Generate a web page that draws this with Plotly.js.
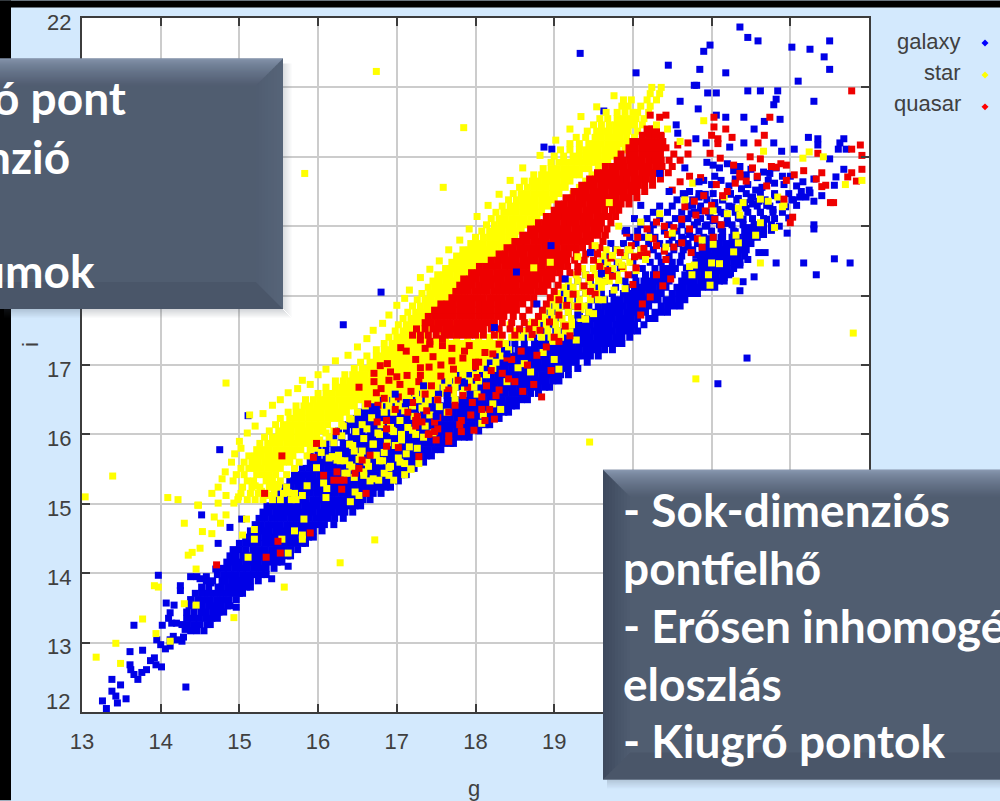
<!DOCTYPE html>
<html><head><meta charset="utf-8">
<script src="https://cdn.plot.ly/plotly-3.0.1.min.js"></script>
<style>html,body{margin:0;padding:0;background:#000;overflow:hidden}#c{width:1000px;height:801px}</style>
</head><body><div id="c"></div>
<script>
const xTicks=[13,14,15,16,17,18,19,20,21,22,23];
const xTickText=['13','14','15','16','17','18','19','','','',''];
const yTicks=[12,13,14,15,16,17,18,19,20,21,22];
const yTickText=['','13','14','15','16','17','','','','','22'];
const legendNames=['galaxy','star','quasar'];
const rightLines=['- Sok-dimenziós','pontfelhő','- Erősen inhomogén','eloszlás','- Kiugró pontok'];
const leftLines=['ó pont','nzió','umok'];

const galaxyRowY=[13.17,13.26,13.35,13.44,13.53,13.62,13.71,13.80,13.89,13.98,14.07,14.16,14.25,14.34,14.43,14.52,14.61,14.70,14.79,14.88,14.97,15.06,15.15,15.24,15.33,15.42,15.51,15.60,15.69,15.78,15.87,15.96,16.05,16.14,16.23,16.32,16.41,16.50,16.59,16.68,16.77,16.86,16.95,17.04,17.13,17.22,17.31,17.40,17.49,17.58,17.67,17.76,17.85,17.94,18.03,18.12,18.21,18.30,18.39,18.48,18.57];
const galaxyRowX=[
[14.38,14.46,14.55],
[14.34,14.42,14.50,14.59,14.63],
[14.33,14.41,14.49,14.57,14.65,14.72],
[14.33,14.42,14.51,14.58,14.66,14.74,14.80],
[14.36,14.45,14.53,14.61,14.69,14.77,14.85,14.88],
[14.38,14.47,14.55,14.63,14.71,14.79,14.87,14.96],
[14.44,14.52,14.60,14.68,14.76,14.84,14.92,15.00,15.04],
[14.52,14.61,14.73,14.77,14.85,14.93,15.01,15.09,15.14],
[14.58,14.66,14.78,14.82,14.90,14.98,15.06,15.14,15.24],
[14.72,14.80,14.88,14.96,15.04,15.12,15.20,15.28,15.34],
[14.78,14.86,14.94,15.02,15.10,15.18,15.26,15.34,15.44],
[14.84,14.92,15.00,15.08,15.16,15.24,15.32,15.40,15.48,15.54],
[14.88,14.96,15.05,15.13,15.21,15.29,15.37,15.45,15.53,15.61,15.65],
[14.92,15.00,15.08,15.17,15.25,15.33,15.41,15.49,15.57,15.65,15.74],
[15.00,15.08,15.16,15.24,15.32,15.40,15.48,15.56,15.64,15.72,15.80,15.84],
[15.08,15.16,15.24,15.32,15.40,15.48,15.56,15.64,15.72,15.80,15.88,15.94],
[15.14,15.22,15.30,15.38,15.46,15.54,15.62,15.70,15.78,15.86,15.94,16.05],
[15.20,15.28,15.36,15.44,15.52,15.60,15.68,15.76,15.84,15.92,16.00,16.08,16.20],
[15.25,15.33,15.41,15.49,15.57,15.65,15.73,15.81,15.89,15.97,16.05,16.13,16.21,16.32],
[15.30,15.38,15.46,15.54,15.62,15.70,15.78,15.86,15.94,16.02,16.10,16.18,16.26,16.34,16.44],
[15.35,15.43,15.51,15.59,15.67,15.75,15.83,15.91,15.99,16.07,16.15,16.23,16.31,16.39,16.47,16.54],
[15.45,15.53,15.61,15.69,15.77,15.85,15.93,16.01,16.09,16.17,16.25,16.33,16.41,16.49,16.57,16.66],
[15.50,15.58,15.66,15.74,15.82,15.90,15.98,16.06,16.14,16.22,16.30,16.38,16.46,16.54,16.62,16.70,16.80],
[15.58,15.66,15.74,15.82,15.90,15.98,16.06,16.14,16.22,16.30,16.38,16.46,16.54,16.62,16.70,16.78,16.86,16.92],
[15.64,15.72,15.80,15.88,15.96,16.04,16.12,16.20,16.28,16.36,16.44,16.52,16.60,16.68,16.76,16.84,16.92,17.02],
[15.70,15.78,15.86,15.94,16.02,16.10,16.18,16.26,16.34,16.42,16.50,16.58,16.66,16.74,16.82,16.90,16.98,17.06,17.12],
[15.80,15.88,15.96,16.04,16.12,16.20,16.28,16.36,16.44,16.52,16.60,16.68,16.76,16.84,16.92,17.00,17.08,17.16,17.22],
[15.90,15.98,16.06,16.14,16.22,16.30,16.38,16.46,16.54,16.62,16.70,16.78,16.86,16.94,17.02,17.10,17.18,17.26,17.34],
[16.10,16.18,16.26,16.34,16.42,16.50,16.58,16.66,16.74,16.82,16.90,16.98,17.06,17.14,17.22,17.30,17.38,17.44],
[16.20,16.28,16.36,16.44,16.52,16.60,16.68,16.76,16.84,16.92,17.00,17.08,17.16,17.24,17.32,17.40,17.48,17.56],
[16.40,16.48,16.56,16.64,16.72,16.80,16.88,16.96,17.04,17.12,17.20,17.28,17.36,17.44,17.52,17.60,17.68,17.72],
[16.50,16.58,16.66,16.74,16.82,16.90,16.98,17.06,17.14,17.22,17.30,17.38,17.46,17.54,17.62,17.70,17.78,17.86,17.92],
[16.80,16.88,16.96,17.04,17.12,17.20,17.28,17.36,17.44,17.52,17.60,17.68,17.76,17.84,17.92,18.04],
[17.00,17.08,17.16,17.24,17.32,17.40,17.48,17.56,17.64,17.72,17.80,17.88,17.96,18.04,18.12,18.18],
[17.20,17.28,17.36,17.44,17.52,17.60,17.68,17.76,17.84,17.92,18.00,18.08,18.16,18.24,18.30],
[17.40,17.48,17.56,17.64,17.72,17.80,17.88,17.96,18.04,18.12,18.20,18.28,18.36,18.42],
[17.60,17.68,17.76,17.84,17.92,18.00,18.08,18.16,18.24,18.32,18.40,18.46,18.52],
[17.70,17.78,17.86,17.94,18.02,18.10,18.18,18.26,18.34,18.42,18.50,18.58,18.66],
[17.90,17.98,18.06,18.14,18.22,18.30,18.38,18.46,18.54,18.62,18.70,18.80],
[18.00,18.08,18.16,18.24,18.32,18.40,18.48,18.56,18.64,18.72,18.80,18.88,18.94],
[18.10,18.18,18.26,18.34,18.42,18.50,18.58,18.66,18.74,18.82,18.90,18.98,19.06],
[18.20,18.28,18.36,18.44,18.52,18.60,18.68,18.76,18.84,18.92,19.00,19.08,19.18],
[18.30,18.38,18.46,18.54,18.62,18.70,18.78,18.86,18.94,19.02,19.10,19.18,19.30],
[18.40,18.48,18.56,18.64,18.72,18.80,18.88,18.96,19.04,19.12,19.20,19.28,19.42],
[18.50,18.58,18.66,18.74,18.82,18.90,18.98,19.06,19.14,19.22,19.30,19.38,19.46,19.56],
[18.60,18.68,18.76,18.84,18.92,19.00,19.08,19.16,19.24,19.32,19.40,19.48,19.56,19.64,19.74],
[18.40,18.50,18.62,18.75,18.83,18.91,18.99,19.07,19.15,19.23,19.31,19.39,19.47,19.55,19.63,19.71,19.79,19.86],
[18.50,18.62,18.74,18.90,18.98,19.06,19.14,19.22,19.30,19.38,19.46,19.54,19.62,19.70,19.78,19.86,19.96],
[18.60,18.72,18.86,19.02,19.10,19.18,19.26,19.34,19.42,19.50,19.58,19.66,19.74,19.82,19.90,19.98,20.06],
[18.70,18.84,18.98,19.12,19.22,19.30,19.38,19.46,19.54,19.62,19.70,19.78,19.86,19.94,20.02,20.14],
[18.80,18.94,19.08,19.24,19.34,19.42,19.50,19.58,19.66,19.74,19.82,19.90,19.98,20.06,20.20,20.28],
[18.90,19.04,19.18,19.32,19.44,19.52,19.60,19.68,19.76,19.84,19.92,20.00,20.08,20.16,20.28,20.36,20.44],
[18.95,19.10,19.26,19.44,19.56,19.64,19.72,19.80,19.88,19.96,20.04,20.12,20.20,20.36,20.44,20.52,20.60],
[19.00,19.14,19.30,19.52,19.64,19.76,19.84,19.92,20.00,20.08,20.16,20.24,20.32,20.42,20.50,20.58,20.66],
[19.10,19.24,19.40,19.60,19.74,19.88,19.96,20.04,20.12,20.20,20.28,20.36,20.50,20.58,20.66,20.74,20.82],
[19.20,19.36,19.52,19.78,19.92,20.02,20.10,20.18,20.26,20.34,20.42,20.56,20.64,20.72,20.80,20.88,20.96,21.04],
[19.30,19.46,19.64,19.90,20.04,20.14,20.22,20.30,20.38,20.46,20.62,20.70,20.78,20.86,20.94,21.02,21.10,21.16],
[19.40,19.58,19.76,20.02,20.16,20.26,20.34,20.42,20.50,20.66,20.74,20.82,20.90,20.98,21.06,21.14,21.22],
[19.50,19.68,19.84,20.12,20.28,20.38,20.46,20.54,20.72,20.80,20.88,20.96,21.04,21.12,21.20,21.28],
[19.60,19.80,20.00,20.22,20.36,20.50,20.60,20.80,20.88,20.96,21.04,21.12,21.20,21.28,21.36],
[19.70,19.90,20.10,20.32,20.46,20.62,20.86,20.94,21.02,21.10,21.18,21.26,21.34,21.42]];
const galaxyFillRowY=[15.69,15.78,15.87,15.96,16.05,16.14,16.23,16.32,16.41,16.50,16.59,16.68,16.77,16.86,16.95,17.04,17.13,17.22,18.66,18.75,18.84,18.93,19.02,19.11,19.20,19.29,19.38,19.47];
const galaxyFillRowX=[
[15.90,16.00],
[16.00,16.10],
[16.10,16.20,16.32],
[16.20,16.30,16.42],
[16.26,16.36,16.46,16.56,16.66,16.72],
[16.36,16.44,16.52,16.60,16.68,16.76,16.84,16.92],
[16.44,16.52,16.60,16.68,16.76,16.84,16.92,17.00,17.08,17.14],
[16.52,16.60,16.68,16.76,16.84,16.92,17.00,17.08,17.16,17.24,17.34],
[16.60,16.68,16.76,16.84,16.92,17.00,17.08,17.16,17.24,17.32,17.40,17.48,17.54],
[16.80,16.88,16.96,17.04,17.12,17.20,17.28,17.36,17.44,17.52,17.64],
[17.00,17.08,17.16,17.24,17.32,17.40,17.48,17.56,17.64,17.72,17.84],
[17.20,17.28,17.36,17.44,17.52,17.60,17.68,17.76,17.84,17.94],
[17.40,17.48,17.56,17.64,17.72,17.80,17.88,17.96,18.04],
[17.50,17.58,17.66,17.74,17.82,17.90,17.98,18.06,18.14],
[17.70,17.78,17.86,17.94,18.02,18.10,18.18,18.24],
[17.90,17.98,18.06,18.14,18.22,18.34],
[18.00,18.08,18.16,18.24,18.32,18.44],
[18.20,18.28,18.36,18.44,18.54],
[19.78,19.94,20.10,20.26,20.40,20.52,20.64,20.76,20.88,20.96,21.04,21.12,21.20,21.28,21.36,21.44],
[19.72,19.88,20.04,20.20,20.34,20.46,20.58,20.70,20.82,20.94,21.02,21.10,21.18,21.26,21.34,21.42,21.50],
[19.96,20.12,20.28,20.50,20.62,20.76,20.90,21.02,21.14,21.26,21.34,21.42,21.50,21.58],
[19.90,20.06,20.22,20.40,20.56,20.70,20.84,21.00,21.14,21.28,21.42,21.50,21.58,21.66],
[20.10,20.26,20.46,20.62,20.78,20.94,21.10,21.26,21.40,21.54,21.66,21.76],
[20.02,20.18,20.34,20.54,20.70,20.86,21.04,21.20,21.36,21.52,21.66,21.80],
[20.26,20.44,20.62,20.78,20.96,21.12,21.30,21.46,21.62,21.78,21.90],
[20.34,20.50,20.70,20.86,21.04,21.22,21.40,21.58,21.74,21.92],
[20.56,20.76,20.94,21.14,21.32,21.50,21.68,21.86,22.02],
[20.64,20.84,21.02,21.24,21.44,21.62,21.80,21.98]];
const galaxyX=[21.36,21.46,21.59,20.98,20.90,22.02,22.25,22.50,22.43,22.50,19.33,20.45,20.85,20.04,21.18,22.10,20.78,20.81,20.95,21.06,21.46,21.62,21.84,21.82,21.79,22.30,20.60,20.83,21.06,21.18,21.41,21.67,21.87,21.54,20.57,20.55,19.63,18.87,18.97,20.80,20.93,21.23,21.41,21.79,21.89,22.05,22.23,22.35,22.35,22.68,22.63,22.61,22.71,22.50,22.68,22.58,22.56,22.30,22.25,22.12,22.30,22.30,22.56,22.76,22.17,21.82,22.33,21.54,21.36,
16.80,16.32,15.11,14.75,21.45,21.08,
13.26,13.31,13.38,13.38,13.49,13.43,13.45,13.56,13.61,13.77,13.61,13.62,13.66,13.71,13.76,13.82,13.87,13.92,13.94,14.01,13.66,13.97,14.32,14.02,14.07,14.17,14.12,14.10,14.14,14.20,14.27,14.31,13.95,14.00,14.06,14.12,14.16,14.21,14.27,14.29,14.12,14.25,14.25,14.38,14.46,14.52,15.03,14.88,14.73,15.41,14.96,14.50,14.58,14.64,14.70,15.62,
20.94,21.02,21.10,21.20,21.28,21.36,21.44,21.50,21.58,21.66,21.74,21.82,21.90,20.90,21.00,21.12,21.22,21.30,21.38,21.46,21.56,21.64,21.72,21.80,21.92,22.00,22.08,22.16,22.24,22.40,20.72,20.84,20.92,21.04,21.14,21.24,21.34,21.42,21.52,21.60,21.70,21.80,21.94,22.04,22.14,22.20,22.30,20.66,20.76,20.86,20.98,21.08,21.16,21.26,21.34,21.44,21.52,21.62,21.70,21.78,21.98,22.08,20.74,20.82,20.92,21.02,21.12,21.20,21.30,21.40,21.48,21.58,21.66,21.76,21.86,21.96,20.64,20.72,20.84,20.94,21.04,21.12,21.22,21.32,21.42,21.50,21.60,20.70,20.80,20.90,21.00,21.10,21.18,21.28,21.36,21.46,21.68,20.68,20.78,20.88,20.96,21.06,21.16,21.24,21.40];
const galaxyY=[21.87,21.72,21.67,21.61,21.52,21.58,21.55,21.67,21.44,21.26,21.49,21.32,21.26,21.21,21.21,21.09,21.03,21.03,20.92,20.92,20.95,20.95,20.95,20.83,20.75,20.80,20.80,20.69,20.60,20.57,20.57,20.51,20.54,20.40,20.34,20.46,20.66,20.14,20.11,20.26,20.20,20.14,20.20,20.20,20.08,20.11,20.28,20.26,20.17,20.26,20.20,20.11,20.11,19.97,19.82,19.71,19.59,19.68,19.48,19.42,19.02,18.96,18.53,18.47,18.47,18.47,18.30,18.27,18.07,
18.05,17.58,16.27,15.78,17.10,16.73,
12.16,12.05,12.30,12.47,12.39,12.23,12.13,12.19,12.87,12.89,12.68,12.61,12.54,12.47,12.57,12.61,12.74,12.78,12.68,12.65,13.25,13.97,12.36,13.25,13.57,13.54,13.43,13.35,13.28,13.28,13.26,13.19,13.04,12.97,12.91,12.95,13.09,13.04,13.02,13.08,13.04,13.82,13.75,13.95,13.95,14.84,14.78,14.66,14.43,13.92,13.51,13.92,13.95,13.86,14.06,14.10,
19.92,19.88,19.84,19.90,19.80,19.86,19.74,19.82,19.70,19.78,19.76,19.84,19.72,19.66,19.60,19.66,19.58,19.68,19.54,19.60,19.52,19.56,19.66,19.62,19.60,19.72,19.58,19.64,19.52,19.44,19.50,19.42,19.46,19.34,19.38,19.46,19.40,19.34,19.42,19.36,19.30,19.44,19.28,19.38,19.50,19.42,19.36,19.46,19.30,19.22,19.14,19.24,19.18,19.28,19.12,19.26,19.32,19.20,19.10,19.24,19.12,19.30,19.18,19.06,19.00,19.08,18.96,19.04,18.92,19.10,18.98,19.02,18.88,18.94,19.00,18.90,18.82,18.88,18.76,18.82,18.70,18.84,18.74,18.66,18.78,18.86,18.62,18.70,18.58,18.64,18.52,18.60,18.48,18.56,18.44,18.52,18.62,18.40,18.34,18.44,18.28,18.36,18.26,18.32,18.20];

const starRowY=[15.33,15.42,15.51,15.60,15.69,15.78,15.87,15.96,16.05,16.14,16.23,16.32,16.41,16.50,16.59,16.68,16.77,16.86,16.95,17.04,17.13,17.22,17.31,17.40,17.49,17.58,17.67,17.76,17.85,17.94,18.03,18.12,18.21,18.30,18.39,18.48,18.57,18.66,18.75,18.84,18.93,19.02,19.11,19.20,19.29,19.38,19.47,19.56,19.65,19.74,19.83,19.92,20.01,20.10,20.19,20.28,20.37,20.46,20.55,20.64,20.73,20.82,20.91,21.00];
const starRowX=[
[14.92,15.10,15.18,15.34,15.42,15.52],
[14.96,15.06,15.22,15.30,15.38,15.46,15.60],
[15.02,15.12,15.20,15.28,15.36,15.44,15.52,15.70],
[15.06,15.16,15.24,15.32,15.40,15.48,15.56,15.64,15.76],
[15.12,15.20,15.28,15.36,15.44,15.52,15.60,15.68,15.86],
[15.22,15.30,15.38,15.46,15.54,15.62,15.70,15.78,15.90],
[15.26,15.36,15.44,15.52,15.60,15.68,15.76,15.84,15.92,16.06],
[15.32,15.42,15.50,15.58,15.66,15.74,15.82,15.90,15.98,16.14],
[15.38,15.50,15.58,15.66,15.74,15.82,15.90,15.98,16.06,16.20],
[15.46,15.56,15.64,15.72,15.80,15.88,15.96,16.04,16.12,16.30],
[15.52,15.64,15.72,15.80,15.88,15.96,16.04,16.12,16.20,16.28,16.40],
[15.62,15.72,15.80,15.88,15.96,16.04,16.12,16.20,16.28,16.36,16.50,16.84,16.96],
[15.72,15.82,15.90,15.98,16.06,16.14,16.22,16.30,16.38,16.46,16.60,16.78,16.90,17.02,17.20,17.36],
[15.84,15.94,16.02,16.10,16.18,16.26,16.34,16.42,16.50,16.58,16.66,16.74,16.86,16.96,17.08,17.16,17.28,17.40,17.52,17.74],
[16.00,16.10,16.18,16.26,16.34,16.42,16.50,16.58,16.66,16.74,16.82,16.90,16.98,17.06,17.14,17.24,17.34,17.44,17.62,17.72,17.84],
[16.10,16.22,16.30,16.38,16.46,16.54,16.62,16.70,16.78,16.86,16.94,17.02,17.10,17.18,17.26,17.34,17.42,17.50,17.60,17.74,17.86,17.98],
[16.22,16.32,16.40,16.48,16.56,16.64,16.72,16.80,16.88,16.96,17.04,17.12,17.20,17.28,17.36,17.44,17.52,17.66,17.76,17.92,18.04],
[16.34,16.44,16.52,16.60,16.68,16.76,16.84,16.92,17.00,17.08,17.16,17.24,17.32,17.40,17.48,17.56,17.64,17.72,17.84,18.00,18.14],
[16.46,16.56,16.64,16.72,16.80,16.88,16.96,17.04,17.12,17.20,17.28,17.36,17.44,17.52,17.60,17.68,17.76,17.84,17.92,18.06,18.22],
[16.54,16.66,16.74,16.82,16.90,16.98,17.06,17.14,17.22,17.30,17.38,17.46,17.54,17.62,17.70,17.78,17.86,17.94,18.02,18.10,18.26],
[16.62,16.74,16.82,16.90,16.98,17.06,17.14,17.22,17.30,17.38,17.46,17.54,17.62,17.70,17.78,17.86,17.94,18.02,18.10,18.18,18.34],
[16.74,16.84,16.92,17.00,17.08,17.16,17.24,17.32,17.40,17.48,17.56,17.64,17.72,17.80,17.88,17.96,18.04,18.12,18.20,18.28,18.42],
[16.84,16.94,17.02,17.10,17.18,17.26,17.34,17.42,17.50,17.58,17.66,17.74,17.82,17.90,17.98,18.06,18.14,18.22,18.30,18.38],
[16.90,17.00,17.08,17.16,17.24,17.32,17.40,17.50,17.62,17.76,17.90,18.04,18.18,18.32,18.46,18.50,18.58,18.70,18.84,18.96,19.08],
[16.98,17.08,17.16,17.24,17.32,17.40,17.56,17.74,17.92,18.10,18.30,18.52,18.62,18.72,18.80,18.92,19.04,19.14],
[17.02,17.12,17.20,17.28,17.36,17.44,17.70,17.94,18.20,18.44,18.70,18.78,18.90,19.02,19.12,19.22],
[17.08,17.18,17.26,17.34,17.42,17.50,18.80,18.88,19.00,19.10,19.22,19.34],
[17.14,17.24,17.32,17.40,17.48,17.56,18.86,18.96,19.06,19.18,19.30],
[17.20,17.30,17.38,17.46,17.54,17.62,18.92,19.02,19.14,19.26,19.38],
[17.26,17.36,17.44,17.52,17.60,17.68,17.76,18.98,19.08,19.20,19.32,19.46],
[17.32,17.42,17.50,17.58,17.66,17.74,17.82,19.04,19.16,19.28,19.40,19.54],
[17.40,17.48,17.56,17.64,17.72,17.80,17.88,19.12,19.24,19.36,19.48,19.60],
[17.46,17.54,17.62,17.70,17.78,17.86,17.94,19.18,19.30,19.44,19.56,19.70],
[17.52,17.60,17.68,17.76,17.84,17.92,18.00,19.28,19.40,19.52,19.66,19.80],
[17.62,17.70,17.78,17.86,17.94,18.02,18.12,19.36,19.50,19.62,19.74,19.88],
[17.70,17.78,17.86,17.94,18.02,18.10,18.18,18.26,19.56,19.68,19.82,19.96],
[17.76,17.84,17.92,18.00,18.08,18.16,18.24,18.34,19.62,19.74,19.90,20.04],
[17.84,17.92,18.00,18.08,18.16,18.24,18.32,18.44,19.66,19.80,19.96,20.10],
[17.94,18.02,18.10,18.18,18.26,18.34,18.42,18.54],
[18.00,18.10,18.18,18.26,18.34,18.42,18.50,18.62],
[18.08,18.18,18.26,18.34,18.42,18.50,18.58,18.72],
[18.14,18.24,18.32,18.40,18.48,18.56,18.64,18.72,18.84],
[18.20,18.30,18.38,18.46,18.54,18.62,18.70,18.78,18.94],
[18.26,18.36,18.44,18.52,18.60,18.68,18.76,18.84,19.02],
[18.34,18.44,18.52,18.60,18.68,18.76,18.84,18.92,19.10],
[18.42,18.52,18.60,18.68,18.76,18.84,18.92,19.00,19.16],
[18.48,18.58,18.66,18.74,18.82,18.90,18.98,19.06,19.24],
[18.56,18.66,18.74,18.82,18.90,18.98,19.06,19.14,19.32],
[18.62,18.72,18.80,18.88,18.96,19.04,19.12,19.20,19.40],
[18.74,18.84,18.92,19.00,19.08,19.16,19.24,19.32,19.48],
[18.86,18.96,19.04,19.12,19.20,19.28,19.36,19.44,19.56],
[18.96,19.06,19.14,19.22,19.30,19.38,19.46,19.54,19.62,19.68],
[19.00,19.12,19.24,19.32,19.40,19.48,19.56,19.64,19.72,19.80],
[19.08,19.20,19.32,19.40,19.48,19.56,19.64,19.72,19.80,19.90],
[19.20,19.32,19.44,19.52,19.60,19.68,19.76,19.84,19.92,20.00],
[19.28,19.40,19.52,19.60,19.68,19.76,19.84,19.92,20.02],
[19.42,19.54,19.62,19.70,19.78,19.86,19.94,20.06],
[19.50,19.60,19.70,19.78,19.86,19.94,20.02,20.12],
[19.58,19.68,19.80,19.88,19.96,20.04,20.14],
[19.66,19.80,19.90,20.00,20.06,20.20],
[19.86,19.94,20.10,20.22],
[19.88,19.98,20.18,20.30],
[20.22,20.34],
[20.24,20.36],
[20.28]];
const starX=[16.74,17.85,15.83,17.59,14.83,15.13,13.39,13.04,14.09,14.22,14.47,20.80,22.80,19.45,16.72,16.28,
13.18,13.43,13.49,13.77,13.94,14.12,13.92,13.97,14.30,14.45,14.45,14.35,14.40,14.50,14.30,14.53,14.65,14.48,14.65,14.73,14.83,14.73,14.68,14.76,14.83,14.93,14.99,14.93,15.57,15.11,15.62,15.19,15.54,15.04,15.19,15.80,15.80,15.70,15.82,15.09,
15.98,16.10,16.41,15.80,16.07,16.11,16.37,16.43,16.58,16.66,16.77,16.90,16.47,16.52,16.24,16.18,15.86,15.62,15.72,15.28,15.36,15.20,15.44,15.50,15.96,16.04,16.14,16.26,16.34,16.46,16.54,16.62,16.74,16.82,16.92,17.02,17.10,17.18,17.28,16.02,16.10,16.20,16.30,16.40,16.48,16.58,16.70,16.78,16.88,16.96,17.06,17.16,17.24,16.32,16.42,16.56,16.68,16.80,16.94,17.04,17.14,17.26,17.36,17.46,17.10,17.22,17.32,17.42,17.54,17.64,18.62,18.70,18.86,19.00,19.06,18.98,19.20,19.28,18.72,18.84,19.16,19.40,19.50,19.34,19.62,19.76,19.82,19.90,20.04,18.02,18.40,18.32,18.10,18.54,18.22,18.08,
15.00,15.10,15.20,15.30,15.42,15.52,15.62,15.74,15.80,15.90,16.00,16.10,16.22,16.38,16.50,16.62,16.70,16.82,16.90,17.00,17.10,17.16,17.30,17.42,17.54,17.66,17.80,17.92,18.02,18.16,18.30,18.44,18.60,18.82,19.02,19.20,19.34,19.54,19.76,14.78,14.82,14.90,14.94,15.02,
14.98,15.10,15.20,15.30,15.42,15.52,15.66,15.02,15.14,15.24,15.34,15.44,15.56,15.70,15.04,15.16,15.26,15.38,15.48,15.60,
16.34,16.46,16.58,16.70,16.84,16.96,17.10,16.28,16.40,16.52,16.64,16.78,16.90,17.04,17.18,16.44,16.56,16.70,16.84,16.98,17.12,17.26,16.62,16.76,16.92,17.06,17.20,17.34,
21.31,21.62,21.31,21.34,21.28,21.02,21.00,20.78,20.75,20.96,20.98,21.36,21.62,21.56,21.84,21.92,21.62,21.16];
const starY=[21.23,20.42,19.76,19.56,16.74,16.28,15.40,15.10,15.09,15.06,14.98,16.80,17.46,15.89,14.48,14.15,
12.79,12.99,12.70,13.34,13.13,13.02,13.82,13.80,13.56,13.54,14.06,14.26,14.30,14.36,14.72,14.60,14.57,14.98,15.15,15.24,15.12,15.01,14.81,14.72,14.84,15.01,15.10,13.36,13.80,14.23,14.29,14.49,14.49,14.55,14.63,14.55,14.49,14.61,14.78,14.78,
15.52,15.09,15.03,15.12,15.30,15.22,15.44,15.53,15.41,15.33,15.34,15.41,15.17,15.12,15.63,15.68,15.26,15.16,15.06,15.18,15.12,15.26,15.24,15.28,15.80,15.74,15.66,15.70,15.62,15.76,15.68,15.60,15.70,15.62,15.54,15.66,15.58,15.50,15.58,15.92,16.02,15.88,15.98,15.86,16.04,15.94,15.86,16.00,15.88,16.04,15.92,15.82,16.00,16.12,16.22,16.14,16.24,16.14,16.06,16.20,16.10,16.22,16.12,16.02,16.34,16.26,16.38,16.28,16.40,16.32,17.02,16.90,17.18,17.08,16.94,17.34,17.48,17.36,17.62,17.70,17.58,17.66,17.74,17.80,17.94,18.08,18.22,18.10,18.36,16.58,16.76,16.36,16.28,16.96,16.44,16.16,
15.90,16.02,16.12,16.30,16.42,16.50,16.60,16.66,16.78,16.72,16.86,16.94,17.06,17.14,17.26,17.38,17.50,17.60,17.72,17.86,17.96,18.08,18.26,18.38,18.50,18.66,18.80,18.96,19.14,19.30,19.46,19.66,19.84,20.02,20.24,20.40,20.58,20.72,20.88,15.36,15.46,15.60,15.72,15.80,
15.06,15.06,15.06,15.06,15.06,15.06,15.06,15.15,15.15,15.15,15.15,15.15,15.15,15.15,15.24,15.24,15.24,15.24,15.24,15.24,
15.44,15.38,15.46,15.36,15.44,15.34,15.42,15.62,15.56,15.64,15.54,15.62,15.52,15.60,15.50,15.84,15.76,15.86,15.74,15.84,15.72,15.80,16.08,16.02,16.10,16.00,16.06,15.96,
18.21,18.47,18.87,18.76,18.63,18.74,18.47,18.44,18.30,18.30,18.15,19.16,19.05,18.87,19.42,19.31,19.39,19.42];

const quasarRowY=[17.43,17.52,17.61,17.70,17.79,17.88,17.97,18.06,18.15,18.24,18.33,18.42,18.51,18.60,18.69,18.78,18.87,18.96,19.05,19.14,19.23,19.32,19.41,19.50,19.59,19.68,19.77,19.86,19.95,20.04,20.13,20.22,20.31,20.40];
const quasarRowX=[
[17.20,17.30,17.40,17.50,17.60,17.68,17.76,17.84,17.92,18.00,18.10,18.24,18.34,18.50],
[17.25,17.36,17.46,17.54,17.62,17.70,17.78,17.86,17.94,18.02,18.10,18.20,18.30,18.44,18.56,18.68],
[17.36,17.44,17.52,17.60,17.68,17.76,17.84,17.92,18.00,18.08,18.16,18.24,18.34,18.46,18.62,18.75],
[17.40,17.48,17.56,17.64,17.72,17.80,17.88,17.96,18.04,18.12,18.20,18.28,18.36,18.48,18.60,18.80],
[17.48,17.56,17.64,17.72,17.80,17.88,17.96,18.04,18.12,18.20,18.28,18.36,18.44,18.52,18.68,18.85],
[17.56,17.64,17.72,17.80,17.88,17.96,18.04,18.12,18.20,18.28,18.36,18.44,18.52,18.60,18.74,18.90],
[17.70,17.78,17.86,17.94,18.02,18.10,18.18,18.26,18.34,18.42,18.50,18.58,18.66,18.74,18.95],
[17.75,17.83,17.91,17.99,18.07,18.15,18.23,18.31,18.39,18.47,18.55,18.63,18.71,18.79,18.87,19.00],
[17.80,17.88,17.96,18.04,18.12,18.20,18.28,18.36,18.44,18.52,18.60,18.68,18.76,18.84,18.92,19.05],
[17.85,17.93,18.01,18.09,18.17,18.25,18.33,18.41,18.49,18.57,18.65,18.73,18.81,18.89,18.97,19.10],
[17.95,18.03,18.11,18.19,18.27,18.35,18.43,18.51,18.59,18.67,18.75,18.83,18.91,18.99,19.07,19.20],
[18.05,18.13,18.21,18.29,18.37,18.45,18.53,18.61,18.69,18.77,18.85,18.93,19.01,19.09,19.17,19.30],
[18.20,18.28,18.36,18.44,18.52,18.60,18.68,18.76,18.84,18.92,19.00,19.08,19.16,19.26,19.38,19.50],
[18.30,18.38,18.46,18.54,18.62,18.70,18.78,18.86,18.94,19.02,19.10,19.18,19.28,19.40,19.55],
[18.40,18.48,18.56,18.64,18.72,18.80,18.88,18.96,19.04,19.12,19.20,19.28,19.36,19.48,19.58],
[18.50,18.58,18.66,18.74,18.82,18.90,18.98,19.06,19.14,19.22,19.30,19.38,19.46,19.62],
[18.60,18.68,18.76,18.84,18.92,19.00,19.08,19.16,19.24,19.32,19.40,19.48,19.56,19.65],
[18.70,18.78,18.86,18.94,19.02,19.10,19.18,19.26,19.34,19.42,19.50,19.58,19.67],
[18.80,18.88,18.96,19.04,19.12,19.20,19.28,19.36,19.44,19.52,19.60,19.72],
[18.90,18.98,19.06,19.14,19.22,19.30,19.38,19.46,19.54,19.62,19.70,19.78],
[19.00,19.08,19.16,19.24,19.32,19.40,19.48,19.56,19.64,19.74,19.82],
[19.05,19.13,19.21,19.29,19.37,19.45,19.53,19.61,19.69,19.77,19.85,19.95],
[19.15,19.23,19.31,19.39,19.47,19.55,19.63,19.71,19.79,19.87,19.95,20.05],
[19.25,19.33,19.41,19.49,19.57,19.65,19.73,19.81,19.89,19.97,20.05,20.15],
[19.35,19.43,19.51,19.59,19.67,19.75,19.83,19.91,19.99,20.07,20.15,20.25],
[19.45,19.53,19.61,19.69,19.77,19.85,19.93,20.01,20.09,20.17,20.25,20.35],
[19.55,19.63,19.71,19.79,19.87,19.95,20.03,20.11,20.19,20.27,20.35,20.45],
[19.65,19.73,19.81,19.89,19.97,20.05,20.13,20.21,20.29,20.37,20.50],
[19.80,19.88,19.96,20.04,20.12,20.20,20.28,20.36,20.46,20.60],
[19.85,19.95,20.03,20.11,20.19,20.27,20.35,20.52,20.70],
[19.95,20.03,20.11,20.19,20.27,20.35,20.42],
[20.00,20.08,20.16,20.24,20.32,20.38],
[20.12,20.20,20.28,20.36],
[20.18,20.24,20.30]];
const quasarX=[22.78,21.03,21.74,21.03,21.18,21.26,21.00,21.08,21.08,20.70,20.57,21.59,21.67,22.89,22.78,22.91,22.35,22.91,22.78,22.73,22.84,22.40,22.45,22.55,22.51,22.00,22.03,21.92,22.33,22.40,22.17,21.95,21.82,21.62,21.49,21.36,21.44,21.28,21.11,20.98,20.22,20.34,20.42,20.19,20.27,
21.20,21.06,20.86,20.72,20.60,20.50,20.90,21.00,21.14,20.78,20.66,21.30,21.36,21.52,21.58,21.70,21.76,21.88,21.95,22.05,20.80,20.92,21.04,21.12,20.62,20.72,20.52,20.44,21.02,20.62,20.52,20.40,20.30,20.18,20.42,20.10,20.04,19.94,20.00,20.30,20.48,20.38,20.74,20.22,20.12,20.82,20.88,20.10,
14.71,15.34,15.52,15.49,15.90,15.32,16.52,16.63,16.23,15.98,15.54,15.94,16.75,16.87,16.87,16.87,17.02,17.24,17.24,17.32,17.48,17.48,17.41,17.28,16.66,16.56,16.52,16.47,16.24,16.07,16.20,16.28,16.33,16.30,16.61,
17.05,16.79,16.88,16.71,16.92,17.00,17.13,17.30,17.41,16.71,16.80,16.90,17.04,17.18,17.28,17.44,17.56,17.66,17.78,17.90,18.02,18.14,16.74,16.84,17.02,17.20,17.36,17.52,17.64,17.74,17.84,17.96,18.08,18.18,16.76,16.98,17.14,17.26,17.38,17.52,17.66,17.82,17.94,18.08,18.24,17.12,17.24,17.36,17.46,17.58,17.70,17.86,18.00,18.12,18.30,18.40,17.30,17.42,17.56,17.70,17.84,18.00,18.20,18.34,18.50,17.40,17.52,17.66,17.80,17.98,18.12,17.50,17.66,17.82,18.26,17.30,17.42,17.58,17.72,17.92,18.04,18.22,18.46,18.58,18.66,18.78,18.90,18.30,18.42,18.60,18.74,18.84,18.96,19.06,19.20,
18.82,18.94,19.06,19.16,19.06,19.24,19.38,19.46,19.30,19.58,19.72,19.84,19.98,20.06,19.92,20.18,20.30,19.68,19.46,18.72,19.00,19.14,19.30,19.52,19.74,19.86,20.02,20.14,20.26,20.40];
const quasarY=[20.95,20.57,20.57,20.43,20.40,20.28,20.31,20.26,20.19,20.20,20.17,20.20,20.31,20.17,20.11,20.02,20.05,19.82,19.77,19.71,19.65,19.57,19.59,19.34,19.34,19.05,19.13,19.39,19.68,19.77,19.80,19.88,19.85,19.97,20.00,19.71,19.65,19.88,19.98,20.05,20.60,20.57,20.60,20.34,20.40,
19.50,19.60,19.70,19.72,19.64,19.52,19.44,19.30,19.44,19.36,19.28,19.62,19.76,19.84,19.72,19.58,19.86,19.90,19.66,19.74,19.16,19.22,19.10,19.02,19.10,18.96,18.98,18.88,18.84,18.76,18.70,18.64,18.72,18.60,18.52,18.58,18.40,18.30,18.16,18.30,18.24,18.14,18.62,17.98,17.88,18.82,18.70,17.72,
14.12,14.23,14.29,14.46,14.58,15.15,16.68,16.44,16.04,15.87,15.69,15.67,16.18,16.20,16.08,15.83,15.81,16.20,16.12,16.18,16.18,16.04,16.01,15.68,15.70,15.63,15.51,15.44,15.46,15.41,15.34,15.34,15.34,15.21,15.15,
17.25,16.99,17.02,16.88,16.90,16.83,16.85,16.85,16.97,16.76,16.66,16.78,16.72,16.62,16.76,16.70,16.84,16.64,16.78,16.68,16.82,16.70,16.60,16.52,16.54,16.46,16.58,16.50,16.60,16.42,16.56,16.46,16.54,16.36,16.42,16.36,16.32,16.26,16.34,16.24,16.32,16.20,16.28,16.36,16.22,17.20,17.08,17.24,17.12,17.28,17.06,17.20,17.04,17.18,17.30,17.10,17.36,17.30,17.00,17.24,17.10,16.98,16.92,16.88,16.76,16.00,16.08,15.98,16.14,16.06,16.20,15.92,15.90,16.04,16.56,16.96,17.34,17.38,16.94,17.28,17.04,17.16,17.08,17.20,17.00,17.14,17.26,16.64,16.80,16.62,16.72,16.54,16.92,17.34,17.42,
17.50,17.62,17.72,17.86,17.94,18.02,18.14,18.26,18.34,18.42,18.54,18.62,18.72,18.84,18.90,18.96,19.06,18.36,18.06,17.44,17.40,17.56,17.84,18.02,18.28,18.42,18.56,18.68,18.82,19.00];

const starTopX=[19.52,19.82,18.74,18.95,19.30,19.70,20.10,20.34,20.66,20.76,20.50,20.20,19.94,19.62,19.74,19.86,20.16,20.42,20.88,21.02,21.10,21.40,21.72,21.90,22.24,22.42,22.70,22.91,22.16,21.66,21.20,20.72,20.60,20.90,19.56,19.44,20.30,20.44,21.34,21.80];
const starTopY=[18.72,19.00,18.40,18.48,18.56,19.34,19.06,19.18,19.38,19.62,18.90,18.84,18.66,18.20,18.58,18.44,18.52,18.70,18.80,19.22,18.46,19.34,19.36,19.28,20.07,20.00,19.60,19.66,19.98,20.08,19.18,18.42,20.22,20.52,17.94,17.76,20.46,20.40,19.26,18.98];
const galaxyTopX=[18.52,18.96,19.14,19.46,18.78,19.30,19.60,19.92,20.10,20.34,20.46,20.66,20.84,21.04,18.24,18.40,17.86,17.64,17.34,17.12,16.98,16.74,17.50];
const galaxyTopY=[18.34,18.72,18.24,18.62,17.88,17.72,18.32,18.94,19.30,19.76,19.50,19.84,19.64,19.72,17.54,17.16,16.74,16.56,16.70,16.46,16.58,16.36,16.26];

function flatten(rowY,rowX,extraX,extraY){
  const xs=[],ys=[];
  rowY.forEach((y,i)=>rowX[i].forEach(x=>{xs.push(x);ys.push(y);}));
  return {x:xs.concat(extraX),y:ys.concat(extraY)};
}
const COL={galaxy:'#0000e6',star:'#ffff00',quasar:'#ee0000'};
const mk=c=>({symbol:'square',size:7,color:c,line:{width:0}});
const g=flatten(galaxyRowY,galaxyRowX,galaxyX,galaxyY);
const gf=flatten(galaxyFillRowY,galaxyFillRowX,[],[]);
const s=flatten(starRowY,starRowX,starX,starY);
const q=flatten(quasarRowY,quasarRowX,quasarX,quasarY);
const traces=[
 {name:'galaxy',type:'scatter',mode:'markers',x:g.x.concat(gf.x),y:g.y.concat(gf.y),marker:mk(COL.galaxy)},
 {name:'star',type:'scatter',mode:'markers',x:s.x,y:s.y,marker:mk(COL.star)},
 {name:'quasar',type:'scatter',mode:'markers',x:q.x,y:q.y,marker:mk(COL.quasar)},
 {name:'star',type:'scatter',mode:'markers',x:starTopX,y:starTopY,marker:mk(COL.star)},
 {name:'galaxy',type:'scatter',mode:'markers',x:galaxyTopX,y:galaxyTopY,marker:mk(COL.galaxy)}
];

const W=1000,H=801,ML=82,MR=131,MT=17.5,MB=88.5;
const PW=W-ML-MR,PH=H-MT-MB;
const px=x=>(x-ML)/PW, py=y=>(H-MB-y)/PH;
const shapes=[];
function rect(x0,y0,x1,y1,c){shapes.push({type:'rect',xref:'paper',yref:'paper',x0:px(x0),x1:px(x1),y0:py(y1),y1:py(y0),fillcolor:c,line:{width:0},layer:'above'});}
function poly(p,c){shapes.push({type:'path',xref:'paper',yref:'paper',path:'M'+p.map(a=>px(a[0])+','+py(a[1])).join(' L')+' Z',fillcolor:c,line:{width:0},layer:'above'});}
function lerp(a,b,t){return 'rgb('+a.map((v,i)=>Math.round(v+(b[i]-v)*t)).join(',')+')';}
rect(0,0,1000,7,'#000');
rect(0,0,11,801,'#000');
function shadow(x0,y0,x1,y1,right){
  for(let i=0;i<9;i++){const a=0.22*(1-i/9);rect(x0+4,y1+i,x1+(right?i:0),y1+i+1,'rgba(60,70,85,'+a+')');
    if(right)rect(x1+i,y0+5,x1+i+1,y1+i,'rgba(60,70,85,'+a*0.8+')');}
}
function box(x0,y0,x1,y1,bevel,leftBevel,rightBevel){
  const face='#505d70',T=[152,168,193],B=[82,95,115];
  rect(x0,y0,x1,y1,face);
  for(let i=0;i<bevel;i++)rect(x0,y0+i,x1,y0+i+1,lerp(T,B,Math.pow(i/(bevel-1),0.7)));
  poly([[x0,y1],[x0+(leftBevel?bevel:0),y1-bevel],[x1-(rightBevel?bevel:0),y1-bevel],[x1,y1]],'#4a5669');
  if(leftBevel){for(let i=0;i<9;i++){const a=x0+i*3,b=a+3;const o=a-x0,o2=b-x0;
    poly([[a,y0+o],[b,y0+o2],[b,y1-o2],[a,y1-o]],lerp([62,74,94],[78,91,111],i/8));}}
  if(rightBevel){for(let i=0;i<9;i++){const b=x1-i*3,a=b-3;const o=x1-b,o2=x1-a;
    poly([[b,y0+o],[a,y0+o2],[a,y1-o2],[b,y1-o]],lerp([86,100,120],[80,93,113],i/8));}}
}
shadow(0,58,283,309,true);
box(0,58,283,309,27,false,true);
shadow(603,470,1000,780,false);
box(603,470,1000,780,27,true,false);
[[985,42.5,'#0000ff'],[985,74.5,'#ffff00'],[985,106.5,'#ff0000']].forEach(d=>poly([[d[0]-3.5,d[1]],[d[0],d[1]-3.5],[d[0]+3.5,d[1]],[d[0],d[1]+3.5]],d[2]));

const tickFont={family:'Liberation Sans',size:22,color:'#404040'};
const ann=[];
const note=(x,y,t,anchor,font,extra)=>ann.push(Object.assign({xref:'paper',yref:'paper',x:px(x),y:py(y),xanchor:anchor,yanchor:'middle',showarrow:false,text:t,font:font},extra||{}));
const legY=[41,72,103];
legendNames.forEach((t,i)=>note(963,legY[i],t,'right',tickFont));
note(72,702,'12','right',tickFont);
note(474,789,'g','center',tickFont);
note(30,345,'i','center',tickFont,{textangle:-90});
const boxFont={family:'Lato',size:46,color:'#ffffff',weight:700};
const rightY=[510,568,626,684,741];
rightLines.forEach((t,i)=>note(621,rightY[i],t,'left',boxFont));
const leftY=[97,156,270],leftR=[128,72,97];
leftLines.forEach((t,i)=>note(leftR[i],leftY[i],t,'right',boxFont));

const axisBase={showline:true,linecolor:'#3c3c3c',linewidth:2,mirror:'ticks',ticks:'inside',ticklen:8,tickwidth:2,tickcolor:'#3c3c3c',showgrid:true,gridcolor:'#cccccc',gridwidth:2,zeroline:false,tickfont:tickFont,automargin:false};
const layout={
  width:W,height:H,showlegend:false,autosize:false,
  paper_bgcolor:'#d3e9fd',plot_bgcolor:'#ffffff',
  margin:{l:ML,r:MR,t:MT,b:MB,pad:0},
  xaxis:Object.assign({},axisBase,{range:[13,23],tickmode:'array',tickvals:xTicks,ticktext:xTickText,ticklabelstandoff:9}),
  yaxis:Object.assign({},axisBase,{range:[12,22],tickmode:'array',tickvals:yTicks,ticktext:yTickText,ticklabelstandoff:4,ticklabelshift:4}),
  shapes:shapes,annotations:ann
};
Plotly.newPlot('c',traces,layout,{displayModeBar:false,staticPlot:true});
</script></body></html>
